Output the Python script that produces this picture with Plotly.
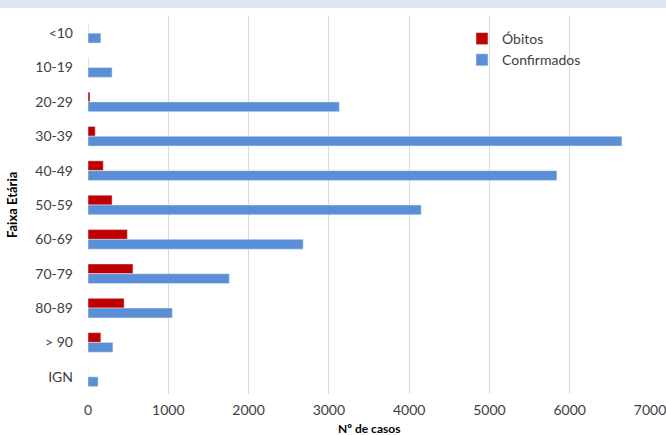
import plotly.graph_objects as go

categories = ["<10", "10-19", "20-29", "30-39", "40-49", "50-59", "60-69", "70-79", "80-89", "> 90", "IGN"]
obitos = [2, 3, 25, 90, 190, 300, 490, 560, 450, 160, 0]
confirmados = [160, 300, 3130, 6650, 5840, 4150, 2680, 1760, 1050, 310, 125]
x_ticks = [0, 1000, 2000, 3000, 4000, 5000, 6000, 7000]

font_family = "Lato, Open Sans, sans-serif"
text_color = "#404040"

fig = go.Figure()
fig.add_trace(go.Bar(y=categories, x=obitos, orientation="h", name="Óbitos",
                     marker=dict(color="#c00000")))
fig.add_trace(go.Bar(y=categories, x=confirmados, orientation="h", name="Confirmados",
                     marker=dict(color="#5a8fd5")))

L, R, T, B = 88, 16, 16, 41
W, H = 666, 435
pw = W - L - R
ph = H - T - B

fig.update_layout(
    width=W, height=H,
    margin=dict(l=L, r=R, t=T, b=B, pad=0, autoexpand=False),
    paper_bgcolor="white", plot_bgcolor="white",
    barmode="group", bargap=0.43, bargroupgap=0.0,
    font=dict(family=font_family, size=14, color=text_color),
    legend=dict(x=(462 - L) / pw, y=(ph + T - 23) / ph, xanchor="left", yanchor="top",
                bgcolor="rgba(0,0,0,0)", font=dict(size=14, color=text_color),
                tracegroupgap=0, itemwidth=30),
    xaxis=dict(range=[0, 7000], tickvals=x_ticks, showgrid=True, gridcolor="#d9d9d9",
               gridwidth=1, zeroline=False, showline=False, ticks="", automargin=False,
               ticklabeloverflow="allow", ticklabelstandoff=6,
               tickfont=dict(size=14, color=text_color)),
    yaxis=dict(autorange="reversed", showgrid=False, zeroline=False, showline=False,
               ticks="", ticklabelstandoff=14, automargin=False,
               tickfont=dict(size=14, color=text_color)),
    showlegend=True,
)

fig.add_annotation(text="<b>Nº de casos</b>", xref="paper", yref="paper",
                   x=0.5, y=(ph - (428 - T)) / ph, xanchor="center", yanchor="middle",
                   showarrow=False, font=dict(size=12, color="#000000"))
fig.add_annotation(text="<b>Faixa Etária</b>", xref="paper", yref="paper",
                   x=(12 - L) / pw, y=0.5, xanchor="center", yanchor="middle",
                   textangle=-90, showarrow=False, font=dict(size=13, color="#000000"))

fig.add_shape(type="rect", xref="paper", yref="paper",
              x0=-L / pw, x1=1 + R / pw, y0=(ph + T - 8) / ph, y1=(ph + T) / ph,
              fillcolor="#dce6f2", line=dict(width=0), layer="below")

fig.write_html("out.html", config={"displayModeBar": False},
               post_script="document.body.style.margin='0';document.body.style.overflow='hidden';")
